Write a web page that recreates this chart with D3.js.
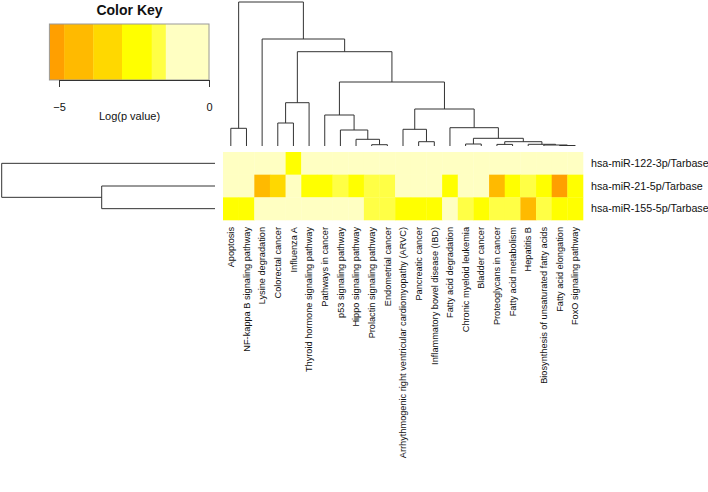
<!DOCTYPE html>
<html>
<head>
<meta charset="utf-8">
<script src="https://cdn.jsdelivr.net/npm/d3@7"></script>
<style>
  html, body { margin: 0; padding: 0; background: #fff; }
  svg { display: block; font-family: "Liberation Sans", Arial, sans-serif; }
</style>
</head>
<body>
<svg id="chart" width="708" height="492"></svg>
<script>
// pathways in the order of the column dendrogram
const pathways = [
  "Apoptosis",
  "NF-kappa B signaling pathway",
  "Lysine degradation",
  "Colorectal cancer",
  "Influenza A",
  "Thyroid hormone signaling pathway",
  "Pathways in cancer",
  "p53 signaling pathway",
  "Hippo signaling pathway",
  "Prolactin signaling pathway",
  "Endometrial cancer",
  "Arrhythmogenic right ventricular cardiomyopathy (ARVC)",
  "Pancreatic cancer",
  "Inflammatory bowel disease (IBD)",
  "Fatty acid degradation",
  "Chronic myeloid leukemia",
  "Bladder cancer",
  "Proteoglycans in cancer",
  "Fatty acid metabolism",
  "Hepatitis B",
  "Biosynthesis of unsaturated fatty acids",
  "Fatty acid elongation",
  "FoxO signaling pathway"
];

const mirnas = [
  "hsa-miR-122-3p/Tarbase",
  "hsa-miR-21-5p/Tarbase",
  "hsa-miR-155-5p/Tarbase"
];

// log(p value) per pathway, one array per miRNA
const logP122 = [-0.4, -0.4, -0.4, -0.4, -2.3, -0.4, -0.4, -0.4, -0.4, -0.4, -0.4, -0.4,
  -0.4, -0.4, -0.4, -0.4, -0.4, -0.4, -0.4, -0.4, -0.4, -0.4, -0.4];
const logP21 = [-0.5, -0.5, -4.3, -3.4, -0.5, -2.4, -2.3, -1.7, -2.2, -1.6, -1.6, -0.5,
  -0.5, -0.5, -2.2, -0.5, -0.5, -4.2, -2.3, -1.7, -2.2, -5.1, -2.3];
const logP155 = [-2.4, -2.4, -0.6, -0.6, -0.6, -0.6, -0.6, -0.6, -0.6, -1.6, -1.6, -2.3,
  -2.3, -2.3, -0.2, -1.7, -2.2, -1.7, -1.7, -4.3, -1.7, -2.3, -2.3];

// colour key
const keyBreaks = [-5.32, -4.83, -3.86, -2.9, -1.91, -1.44, 0];
const keyColors = ["#ff9f00", "#ffba00", "#ffd800", "#ffff00", "#ffff45", "#ffffc2"];
const keyTicks = [-5, 0];

// hclust style merges: negative = leaf (1-based), positive = earlier merge
const colMerge = [
  [-1, -2, 17.7],
  [-4, -5, 23],
  [2, -6, 43.3],
  [-10, -11, 1.3],
  [-9, 4, 6.7],
  [-8, 5, 16],
  [-7, 6, 31],
  [-13, -14, 4.3],
  [-12, 8, 16.7],
  [-16, -17, 2],
  [-22, -23, 0.5],
  [-21, 11, 1],
  [-20, 12, 1.7],
  [-18, -19, 1.6],
  [14, 13, 4.3],
  [10, 15, 7.7],
  [-15, 16, 18.3],
  [9, 17, 37],
  [7, 18, 64],
  [3, 19, 94.3],
  [-3, 20, 107],
  [1, 21, 144]
];
const rowMerge = [
  [-2, -3, 113.3],
  [-1, 1, 213.3]
];

const matrix = [logP122, logP21, logP155];

const svg = d3.select("#chart");
const fontSans = "\"Liberation Sans\", Arial, sans-serif";

// heatmap scales
const x = d3.scaleBand().domain(d3.range(pathways.length)).range([223, 583]);
const y = d3.scaleBand().domain(d3.range(mirnas.length)).range([152, 220]);
const color = d3.scaleThreshold().domain(keyBreaks.slice(1, -1)).range(keyColors);

// cells
const cells = [];
matrix.forEach((row, r) => row.forEach((v, c) => cells.push({ r, c, v })));

svg.append("g")
  .selectAll("rect")
  .data(cells)
  .join("rect")
  .attr("x", (d) => x(d.c))
  .attr("y", (d) => y(d.r))
  .attr("width", x.bandwidth() + 0.3)
  .attr("height", y.bandwidth() + 0.3)
  .attr("fill", (d) => color(d.v));

// row labels
svg.append("g")
  .selectAll("text")
  .data(mirnas)
  .join("text")
  .attr("x", 591)
  .attr("y", (d, i) => y(i) + y.bandwidth() / 2)
  .attr("dy", "0.35em")
  .style("font-size", "10.7px")
  .style("fill", "#111")
  .text((d) => d);

// column labels, rotated
svg.append("g")
  .selectAll("text")
  .data(pathways)
  .join("text")
  .attr("transform", (d, i) => `translate(${x(i) + x.bandwidth() / 2},227) rotate(-90)`)
  .attr("dy", "0.35em")
  .attr("text-anchor", "end")
  .style("font-size", "9.2px")
  .style("fill", "#111")
  .text((d) => d);

// dendrogram helper: returns node positions for each merge
function layoutMerges(merges, leafPos) {
  const nodes = [];
  const pos = (id) => (id < 0 ? { p: leafPos(-id - 1), h: 0 } : nodes[id - 1]);
  merges.forEach(([a, b, h]) => {
    const na = pos(a);
    const nb = pos(b);
    nodes.push({ p: (na.p + nb.p) / 2, h, a: na, b: nb });
  });
  return nodes;
}

// column dendrogram
const colH = d3.scaleLinear().domain([0, 144]).range([146, 2]);
const colNodes = layoutMerges(colMerge, (i) => x(i) + x.bandwidth() / 2);

svg.append("g")
  .attr("fill", "none")
  .attr("stroke", "#333")
  .attr("stroke-width", 1)
  .selectAll("path")
  .data(colNodes)
  .join("path")
  .attr("d", (d) =>
    `M${d.a.p},${colH(d.a.h)}V${colH(d.h)}H${d.b.p}V${colH(d.b.h)}`);

// row dendrogram
const rowH = d3.scaleLinear().domain([0, 213.3]).range([215, 1.7]);
const rowNodes = layoutMerges(rowMerge, (i) => y(i) + y.bandwidth() / 2);

svg.append("g")
  .attr("fill", "none")
  .attr("stroke", "#333")
  .attr("stroke-width", 1)
  .selectAll("path")
  .data(rowNodes)
  .join("path")
  .attr("d", (d) =>
    `M${rowH(d.a.h)},${d.a.p}H${rowH(d.h)}V${d.b.p}H${rowH(d.b.h)}`);

// colour key
const kx = d3.scaleLinear().domain([-5, 0]).range([59, 209]);
const key = svg.append("g");

key.selectAll("rect")
  .data(keyColors)
  .join("rect")
  .attr("x", (d, i) => kx(keyBreaks[i]))
  .attr("y", 24)
  .attr("width", (d, i) => kx(keyBreaks[i + 1]) - kx(keyBreaks[i]) + 0.3)
  .attr("height", 56)
  .attr("fill", (d) => d);

key.append("rect")
  .attr("x", kx(keyBreaks[0]))
  .attr("y", 24)
  .attr("width", kx(0) - kx(keyBreaks[0]))
  .attr("height", 56)
  .attr("fill", "none")
  .attr("stroke", "#999")
  .attr("stroke-width", 1);

const keyAxis = key.append("g")
  .attr("transform", "translate(0,80)")
  .call(d3.axisBottom(kx).tickValues(keyTicks).tickFormat(d3.format("d"))
    .tickSize(7).tickSizeOuter(0).tickPadding(16));
keyAxis.select(".domain").attr("stroke", "#333");
keyAxis.selectAll(".tick line").attr("stroke", "#333");
keyAxis.selectAll("text")
  .style("font-family", fontSans)
  .style("font-size", "11px")
  .attr("fill", "#111");

key.append("text")
  .attr("x", 129.5)
  .attr("y", 15)
  .attr("text-anchor", "middle")
  .style("font-size", "14px")
  .style("font-weight", "bold")
  .style("fill", "#111")
  .text("Color Key");

key.append("text")
  .attr("x", 129.5)
  .attr("y", 120)
  .attr("text-anchor", "middle")
  .style("font-size", "11px")
  .style("fill", "#111")
  .text("Log(p value)");
</script>
</body>
</html>
